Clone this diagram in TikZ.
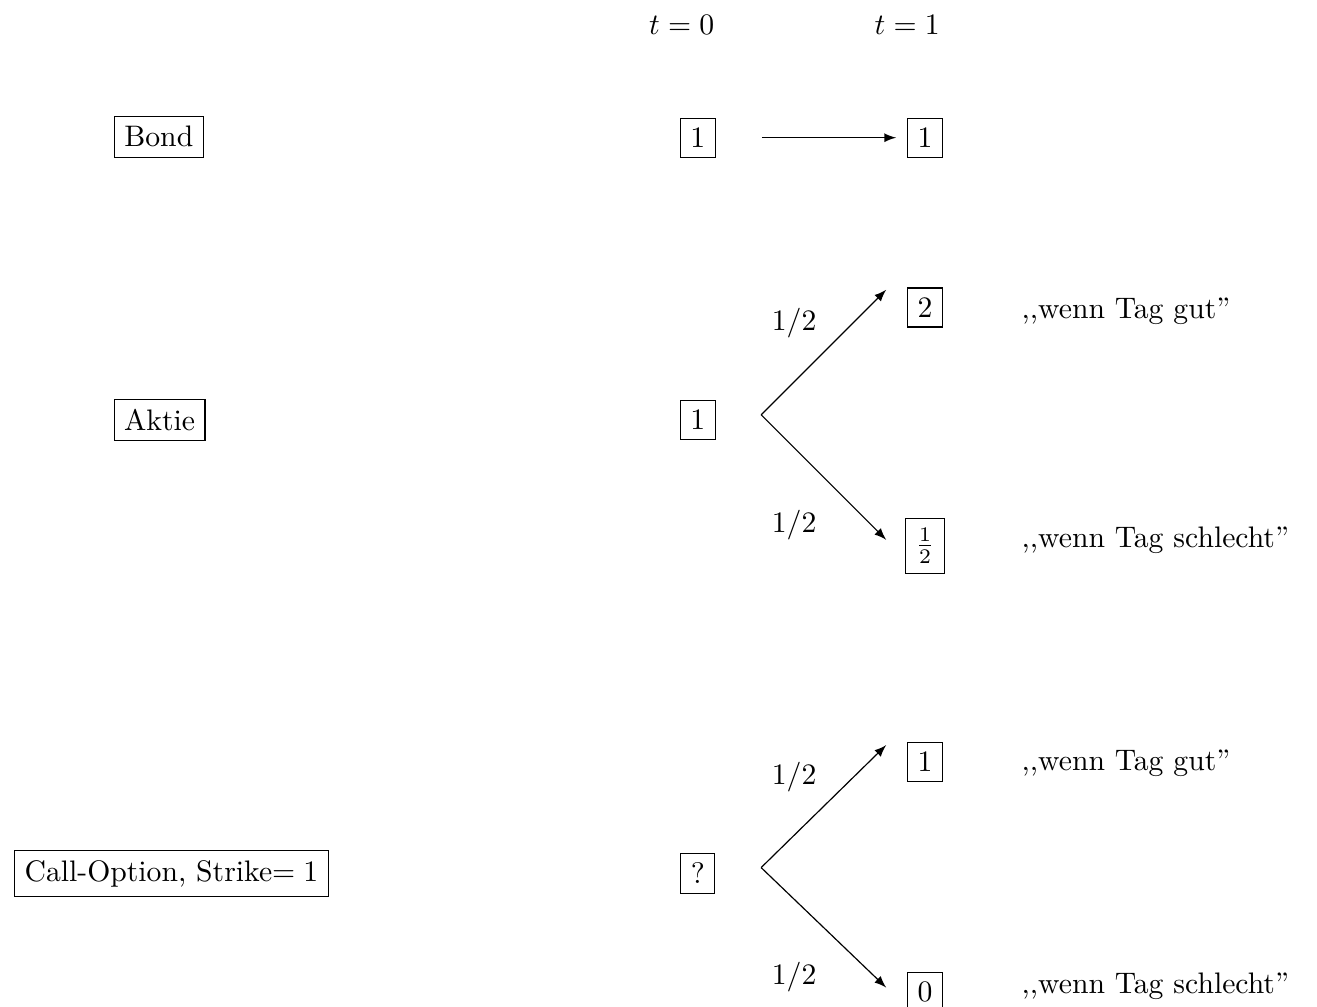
\documentclass[tikz,border=0pt]{standalone}
\usepackage{tikz}
\usetikzlibrary{arrows}
\usetikzlibrary{positioning}
\tikzstyle{valuebox}=[draw]
\tikzstyle{edge} = [draw,->,>=latex]
\tikzstyle{weight} = [font=\normalsize]

\begin{document}
\begin{tikzpicture}
   \useasboundingbox (0,0) rectangle (15.59,-11.92);

   % time points
   \node (t0) at (8.07,-0.30) {$t=0$};
   \node (t1) at (10.74,-0.30) {$t=1$};

   % products
   \node[valuebox] (bond) at (1.88,-1.62) {Bond};
   \node[valuebox] (aktie) at (1.89,-4.97) {Aktie};
   \node[valuebox] (call) at (2.03,-10.34) {Call-Option, Strike$=1$};

   \foreach \pos/\name/\val in {{(8.26,-1.63)/b0/1}, {(10.95,-1.63)/b1/1},
        {(8.26,-4.97)/a0/1}, {(10.95,-3.64)/a1/2}, {(10.95,-6.46)/a2/\frac12},
        {(8.26,-10.34)/c0/?}, {(10.95,-9.02)/c1/1}, {(10.95,-11.74)/c2/0}}
        \node[valuebox] (\name) at \pos {$\val$};

   \coordinate (bfork) at (9.02,-1.63);
   \path[edge, shorten >=3.7pt] (bfork) -- (b1);

   \foreach \row/\y/\yup/\ydown in {a/-4.91/-3.43/-6.39, c/-10.27/-8.82/-11.69} {
        \coordinate (\row fork) at (9.01,\y);
        \coordinate (\row up) at (10.49,\yup);
        \coordinate (\row down) at (10.49,\ydown);
        \path[edge] (\row fork) -- (\row up);
        \path[edge] (\row fork) -- (\row down);
   }

   \foreach \pos/\name in {{(9.40,-3.82)/pa1}, {(9.40,-6.21)/pa2}, {(9.40,-9.20)/pc1}, {(9.40,-11.57)/pc2}}
        \node[weight] (\name) at \pos {$1/2$};

   \node[anchor=west] (ga) at (11.97,-3.68) {,{},wenn Tag gut''};
   \node[anchor=west] (sa) at (11.97,-6.39) {,{},wenn Tag schlecht''};
   \node[anchor=west] (gc) at (11.97,-9.03) {,{},wenn Tag gut''};
   \node[anchor=west] (sc) at (11.97,-11.68) {,{},wenn Tag schlecht''};
\end{tikzpicture}
\end{document}
